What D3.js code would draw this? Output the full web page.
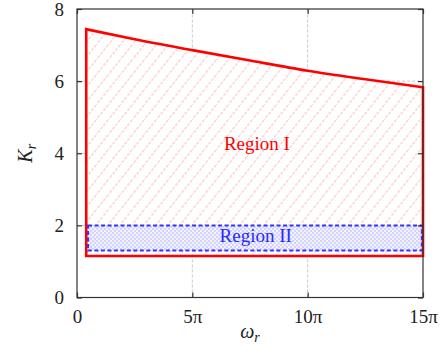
<!DOCTYPE html>
<html>
<head>
<meta charset="utf-8">
<script src="https://cdn.jsdelivr.net/npm/d3@7"></script>
<style>
  body { margin: 0; background: #fff; }
  text { font-family: "Liberation Serif", "Times New Roman", serif; }
</style>
</head>
<body>
<svg id="chart" width="441" height="352"></svg>
<script>
// Axis ticks (omega in multiples of pi)
const omegaTicks = [0, 5, 10, 15];
const omegaTickLabels = ["0", "5π", "10π", "15π"];
const kTicks = [0, 2, 4, 6, 8];

// Region I: upper boundary of K_r versus omega (omega in multiples of pi)
const region1Omega = [0.4, 2.5, 5, 7.5, 10, 12.5, 15];
const region1Upper = [7.44, 7.16, 6.86, 6.57, 6.29, 6.05, 5.83];
const region1Lower = 1.15;

// Region II: rectangular band
const region2Omega = [0.48, 14.95];
const region2K = [1.3, 2.0];

const serif = "'Liberation Serif', 'Times New Roman', serif";
const svg = d3.select("#chart");
const margin = { left: 77, right: 18, top: 9, bottom: 55 };
const W = 441, H = 352;

const x = d3.scaleLinear().domain([0, 15]).range([margin.left, W - margin.right]);
const y = d3.scaleLinear().domain([0, 8]).range([H - margin.bottom + 0.5, margin.top]);

const defs = svg.append("defs");

// diagonal hatch for Region I
const hatch = defs.append("pattern")
  .attr("id", "hatch").attr("patternUnits", "userSpaceOnUse")
  .attr("width", 12).attr("height", 15);
hatch.append("rect").attr("width", 12).attr("height", 15).attr("fill", "#fff");
hatch.append("line")
  .attr("x1", -1).attr("y1", 16.25).attr("x2", 13).attr("y2", -1.25)
  .attr("stroke", "#ffd2d2").attr("stroke-width", 1.5)
  .attr("stroke-dasharray", "3,1.5");

// light checker fill for Region II
const checker = defs.append("pattern")
  .attr("id", "checker").attr("patternUnits", "userSpaceOnUse")
  .attr("width", 4).attr("height", 4);
checker.append("rect").attr("width", 4).attr("height", 4).attr("fill", "#f0f1ff").attr("opacity", 0.85);
checker.append("rect").attr("width", 2).attr("height", 2).attr("fill", "#d2d4ff");
checker.append("rect").attr("x", 2).attr("y", 2).attr("width", 2).attr("height", 2).attr("fill", "#d2d4ff");

// grid
const gridColor = "#c8c8c8";
svg.append("g").selectAll("line").data(omegaTicks.slice(1, -1)).join("line")
  .attr("x1", d => x(d)).attr("x2", d => x(d))
  .attr("y1", y(0)).attr("y2", y(8))
  .attr("stroke", gridColor).attr("stroke-width", 1).attr("stroke-dasharray", "3,2");
svg.append("g").selectAll("line").data(kTicks.slice(1, -1)).join("line")
  .attr("y1", d => y(d)).attr("y2", d => y(d))
  .attr("x1", x(0)).attr("x2", x(15))
  .attr("stroke", gridColor).attr("stroke-width", 1).attr("stroke-dasharray", "3,2");

// Region I polygon: smooth upper edge, straight sides and bottom
const upperPts = region1Omega.map((o, i) => [x(o), y(region1Upper[i])]);
const upperPath = d3.line().curve(d3.curveMonotoneX)(upperPts);
const x0 = x(region1Omega[0]), x1 = x(region1Omega[region1Omega.length - 1]);
const yLow = y(region1Lower);
const r1Path = `M${x0},${yLow}L${upperPath.slice(1)}L${x1},${yLow}Z`;

svg.append("path").attr("d", r1Path)
  .attr("fill", "url(#hatch)").attr("stroke", "none");

// Region II fill
svg.append("rect")
  .attr("x", x(region2Omega[0])).attr("y", y(region2K[1]))
  .attr("width", x(region2Omega[1]) - x(region2Omega[0]))
  .attr("height", y(region2K[0]) - y(region2K[1]))
  .attr("fill", "url(#checker)");

// Region I outline
svg.append("path").attr("d", r1Path)
  .attr("fill", "none").attr("stroke", "#ff0000").attr("stroke-width", 2.6)
  .attr("stroke-linejoin", "miter");

// Region II outline
svg.append("rect")
  .attr("x", x(region2Omega[0])).attr("y", y(region2K[1]))
  .attr("width", x(region2Omega[1]) - x(region2Omega[0]))
  .attr("height", y(region2K[0]) - y(region2K[1]))
  .attr("fill", "none").attr("stroke", "#3333ff").attr("stroke-width", 2)
  .attr("stroke-dasharray", "4,2.5");

// axes box with inward ticks on all sides
const axisColor = "#333";
const tickLen = 5;
svg.append("rect").attr("x", x(0)).attr("y", y(8))
  .attr("width", x(15) - x(0)).attr("height", y(0) - y(8))
  .attr("fill", "none").attr("stroke", axisColor).attr("stroke-width", 1.2);

const bottomAxis = d3.axisBottom(x).tickValues(omegaTicks)
  .tickFormat((d, i) => omegaTickLabels[i]).tickSizeInner(-tickLen).tickSizeOuter(0).tickPadding(12);
const gb = svg.append("g").attr("transform", `translate(0,${y(0)})`).call(bottomAxis);
const topAxis = d3.axisTop(x).tickValues(omegaTicks).tickFormat("").tickSizeInner(-tickLen).tickSizeOuter(0);
const gt = svg.append("g").attr("transform", `translate(0,${y(8)})`).call(topAxis);
const leftAxis = d3.axisLeft(y).tickValues(kTicks).tickFormat(d3.format("d"))
  .tickSizeInner(-tickLen).tickSizeOuter(0).tickPadding(13);
const gl = svg.append("g").attr("transform", `translate(${x(0)},0)`).call(leftAxis);
const rightAxis = d3.axisRight(y).tickValues(kTicks).tickFormat("").tickSizeInner(-tickLen).tickSizeOuter(0);
const gr = svg.append("g").attr("transform", `translate(${x(15)},0)`).call(rightAxis);

[gb, gt, gl, gr].forEach(g => {
  g.attr("font-family", serif).attr("font-size", 19);
  g.select(".domain").remove();
  g.selectAll(".tick line").attr("stroke", axisColor).attr("stroke-width", 1.2);
  g.selectAll(".tick text").attr("fill", "#222")
    .attr("font-family", serif).style("font-family", serif)
    .style("font-size", "19px");
});

// axis titles
svg.append("text")
  .attr("transform", `translate(32,${(y(0) + y(8)) / 2}) rotate(-90)`)
  .attr("text-anchor", "middle").attr("fill", "#222").style("font-size", "20px")
  .call(t => {
    t.append("tspan").text("K").style("font-style", "italic");
    t.append("tspan").text("r").style("font-style", "italic").style("font-size", "14px").attr("dy", 4);
  });

svg.append("text")
  .attr("x", (x(0) + x(15)) / 2).attr("y", 338)
  .attr("text-anchor", "middle").attr("fill", "#222").style("font-size", "20px")
  .call(t => {
    t.append("tspan").text("ω").style("font-style", "italic");
    t.append("tspan").text("r").style("font-style", "italic").style("font-size", "14px").attr("dy", 4);
  });

// region labels
svg.append("text").attr("x", x(7.8)).attr("y", y(4.1))
  .attr("text-anchor", "middle").attr("fill", "#ff0000").style("font-size", "19px")
  .text("Region I");
svg.append("text").attr("x", x(7.75)).attr("y", y(1.55))
  .attr("text-anchor", "middle").attr("fill", "#2a2aff").style("font-size", "19px")
  .text("Region II");
</script>
</body>
</html>
